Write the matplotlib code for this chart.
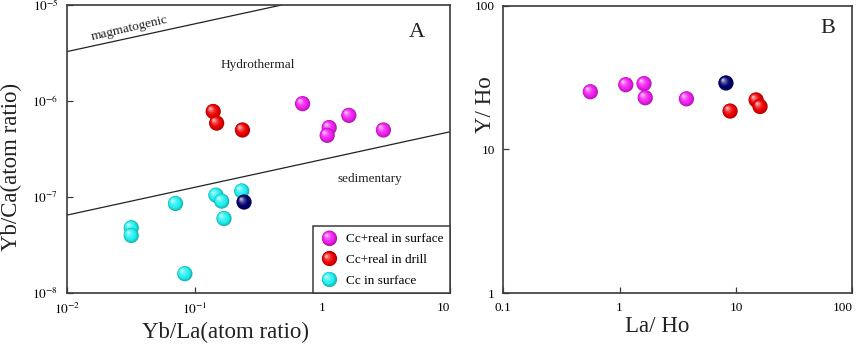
import numpy as np
import matplotlib
matplotlib.use("Agg")
import matplotlib.pyplot as plt
from matplotlib.colors import to_rgb
from matplotlib.transforms import offset_copy
from matplotlib.legend_handler import HandlerBase
from matplotlib.lines import Line2D
from matplotlib.ticker import FixedLocator, FixedFormatter, NullLocator

plt.rcParams['font.family'] = ['Liberation Serif', 'DejaVu Serif']
plt.rcParams['mathtext.fontset'] = 'stix'

# ---------------- data ----------------
# Panel A: Yb/La vs Yb/Ca
a_surf_x = [0.70, 1.13, 1.09, 1.61, 3.0]
a_surf_y = [9.4e-7, 5.3e-7, 4.4e-7, 7.1e-7, 5.0e-7]
a_drill_x = [0.14, 0.149, 0.237]
a_drill_y = [7.8e-7, 5.9e-7, 5.0e-7]
a_cc_x = [0.234, 0.147, 0.163, 0.071, 0.170, 0.032, 0.032, 0.084]
a_cc_y = [1.16e-7, 1.05e-7, 9.1e-8, 8.6e-8, 6.0e-8, 4.8e-8, 4.0e-8, 1.6e-8]
a_navy_x = [0.244]
a_navy_y = [8.9e-8]
magma_line_x = [0.01, 0.48]
magma_line_y = [3.27e-6, 1e-5]
sed_line_x = [0.01, 10]
sed_line_y = [6.5e-8, 4.8e-7]

# Panel B: La/Ho vs Y/Ho
b_surf_x = [0.56, 1.13, 1.62, 1.66, 3.75]
b_surf_y = [25.2, 28.2, 28.7, 22.9, 22.5]
b_navy_x = [8.2]
b_navy_y = [29.0]
b_drill_x = [8.9, 14.9, 16.1]
b_drill_y = [18.5, 22.1, 19.9]

a_xticks = [1e-2, 1e-1, 1, 10]
a_xticklabels = ['$10^{-2}$', '$10^{-1}$', '1', '10']
a_yticks = [1e-8, 1e-7, 1e-6, 1e-5]
a_yticklabels = ['$10^{-8}$', '$10^{-7}$', '$10^{-6}$', '$10^{-5}$']
b_xticks = [0.1, 1, 10, 100]
b_xticklabels = ['0.1', '1', '10', '100']
b_yticks = [1, 10, 100]
b_yticklabels = ['1', '10', '100']

legend_labels = ['Cc+real in surface', 'Cc+real in drill', 'Cc in surface']

C_MAG = '#f21ff2'
C_RED = '#ee0000'
C_CYAN = '#1ff0f0'
C_NAVY = '#00006e'

DPI = 100
fig = plt.figure(figsize=(8.58, 3.47), dpi=DPI)
axA = fig.add_axes([0.0777, 0.1548, 0.4471, 0.8308])
axB = fig.add_axes([0.5866, 0.1548, 0.4068, 0.8288])

S = 120  # marker area (pt^2)
NL = 12


def layer_colors(color):
    base = np.array(to_rgb(color))
    dark = base * 0.75
    white = np.ones(3)
    out = []
    for i in range(NL):
        f = i / NL
        if f < 0.25:
            c = dark + (base - dark) * (f / 0.25)
        else:
            g = ((f - 0.25) / 0.75) ** 1.6
            c = base + (white - base) * g * 0.95
        out.append((f, np.clip(c, 0, 1)))
    return out


def sphere(ax, xs, ys, color, z0):
    r_pt = np.sqrt(S) / 2
    r_px = r_pt * DPI / 72
    z = z0
    for x, y in zip(xs, ys):
        for f, c in layer_colors(color):
            off = f * r_px * 0.45
            tr = offset_copy(ax.transData, fig=fig, x=-off, y=off, units='dots')
            ax.scatter([x], [y], s=S * (1 - f) ** 2, color=[c], edgecolors='none',
                       transform=tr, zorder=z)
        z += 0.01
    return z


class SphereHandler(HandlerBase):
    def create_artists(self, legend, orig_handle, xdescent, ydescent, width, height,
                       fontsize, trans):
        color = orig_handle.get_color()
        cx = width / 2 - xdescent
        cy = height / 2 - ydescent
        r_pt = np.sqrt(S) / 2
        arts = []
        for f, c in layer_colors(color):
            off = f * r_pt * 0.45
            ms = 2 * r_pt * (1 - f)
            ln = Line2D([cx - off], [cy + off], marker='o', markersize=ms,
                        markerfacecolor=c, markeredgecolor='none', linestyle='none',
                        transform=trans)
            arts.append(ln)
        return arts


SPINE = '#3a3a3a'


def style(ax):
    for s in ax.spines.values():
        s.set_color(SPINE)
        s.set_linewidth(1.2)
    ax.tick_params(which='major', direction='in', length=4, width=0.9, color=SPINE,
                   labelsize=9.5, top=False, right=False, pad=6)
    ax.xaxis.set_minor_locator(NullLocator())
    ax.yaxis.set_minor_locator(NullLocator())


# ---------------- Panel A ----------------
axA.set_xscale('log')
axA.set_yscale('log')
axA.set_xlim(1e-2, 10)
axA.set_ylim(1e-8, 1e-5)
style(axA)
axA.xaxis.set_major_locator(FixedLocator(a_xticks))
axA.xaxis.set_major_formatter(FixedFormatter(a_xticklabels))
axA.yaxis.set_major_locator(FixedLocator(a_yticks))
axA.yaxis.set_major_formatter(FixedFormatter(a_yticklabels))

axA.plot(magma_line_x, magma_line_y, color='#222222', lw=0.9, zorder=2)
axA.plot(sed_line_x, sed_line_y, color='#222222', lw=0.9, zorder=2)

z = 3
z = sphere(axA, a_cc_x, a_cc_y, C_CYAN, z)
z = sphere(axA, a_navy_x, a_navy_y, C_NAVY, z)
z = sphere(axA, a_drill_x, a_drill_y, C_RED, z)
z = sphere(axA, a_surf_x, a_surf_y, C_MAG, z)

axA.text(0.0158, 4.3e-6, 'magmatogenic', rotation=13, fontsize=9.5, color='#222222',
         ha='left', va='baseline', rotation_mode='anchor')
axA.text(0.497, 0.792, 'Hydrothermal', transform=axA.transAxes, fontsize=9.5,
         ha='center', va='center', color='#222222')
axA.text(0.79, 0.396, 'sedimentary', transform=axA.transAxes, fontsize=9.5,
         ha='center', va='center', color='#222222')
axA.text(0.913, 0.905, 'A', transform=axA.transAxes, fontsize=16,
         ha='center', va='center', color='#222222')

axA.set_xlabel('Yb/La(atom ratio)', fontsize=16.5, color='#222222', va='center')
axA.xaxis.set_label_coords(0.413, -0.135)
axA.set_ylabel('Yb/Ca(atom ratio)', fontsize=16.5, color='#222222', va='center')
axA.yaxis.set_label_coords(-0.143, 0.44)

handles = [Line2D([], [], color=C_MAG), Line2D([], [], color=C_RED),
           Line2D([], [], color=C_CYAN)]
leg = axA.legend(handles, legend_labels, loc='lower right', bbox_to_anchor=(1.0, 0.0),
                 borderaxespad=0, fancybox=False, framealpha=1, edgecolor=SPINE,
                 fontsize=9.5, handler_map={Line2D: SphereHandler()},
                 handlelength=1.4, handletextpad=0.6, labelspacing=0.64,
                 borderpad=0.5)
leg.get_frame().set_linewidth(1.1)
leg.set_zorder(10)

# ---------------- Panel B ----------------
axB.set_xscale('log')
axB.set_yscale('log')
axB.set_xlim(0.1, 100)
axB.set_ylim(1, 100)
style(axB)
axB.xaxis.set_major_locator(FixedLocator(b_xticks))
axB.xaxis.set_major_formatter(FixedFormatter(b_xticklabels))
axB.yaxis.set_major_locator(FixedLocator(b_yticks))
axB.yaxis.set_major_formatter(FixedFormatter(b_yticklabels))

z = 3
z = sphere(axB, b_surf_x, b_surf_y, C_MAG, z)
z = sphere(axB, b_navy_x, b_navy_y, C_NAVY, z)
z = sphere(axB, b_drill_x, b_drill_y, C_RED, z)

axB.text(0.93, 0.92, 'B', transform=axB.transAxes, fontsize=16,
         ha='center', va='center', color='#222222')
axB.set_xlabel('La/ Ho', fontsize=16.5, color='#222222', va='center')
axB.xaxis.set_label_coords(0.44, -0.115)
axB.set_ylabel('Y/ Ho', fontsize=16.5, color='#222222', va='center')
axB.yaxis.set_label_coords(-0.052, 0.655)

# edge tick labels pulled inward like the reference
fig.canvas.draw()
axA.get_xticklabels()[-1].set_ha('right')
axB.get_xticklabels()[-1].set_ha('right')

fig.savefig('out.png', dpi=DPI)
